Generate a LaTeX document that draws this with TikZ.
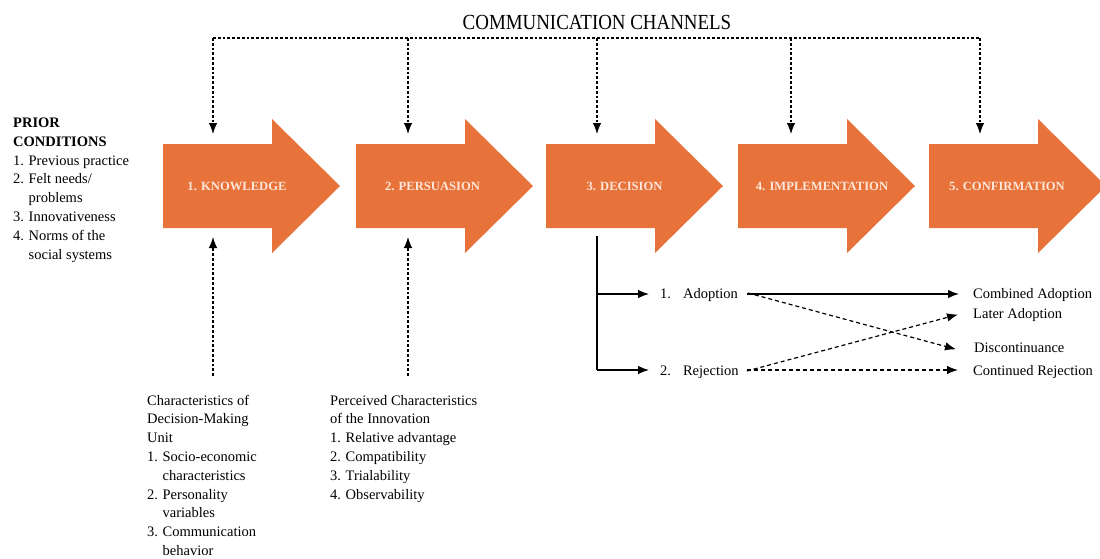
\documentclass[tikz,border=0pt]{standalone}
\usepackage{fontspec}
\setmainfont{Liberation Serif}
\usetikzlibrary{arrows.meta}
\definecolor{stagefill}{HTML}{E8733A}
\definecolor{stageink}{HTML}{FCE6DA}

% numbered list: number column, then the item text
\newenvironment{blocklist}{\renewcommand{\arraystretch}{1}\begin{tabular}[t]{@{}l@{\hspace{4.6pt}}l@{}}}{\end{tabular}}

\begin{document}
\begin{tikzpicture}[x=1pt,y=-1pt,
  body/.style={font=\fontsize{14.5}{18.8}\selectfont, inner sep=0pt, anchor=base west},
  stagelabel/.style={font=\fontsize{12.6}{15}\selectfont\bfseries, text=stageink, inner sep=0pt},
  tip/.style={-{Latex[length=11pt,width=8.5pt]}},
  chan/.style={line width=1.1pt, dash pattern=on 2.8pt off 2pt, tip},
  bus/.style={line width=1.1pt, dash pattern=on 2.8pt off 2pt},
  feed/.style={line width=1.1pt, dash pattern=on 2.8pt off 2pt, tip},
  solidarr/.style={line width=1.3pt, tip},
  dasharr/.style={line width=1.2pt, dash pattern=on 4pt off 3pt, tip},
]
\useasboundingbox (0,0) rectangle (1100,558);
\fill[white] (0,0) rectangle (1100,558);

% five stage arrows
\foreach \x in {163,356,546,738,929}{
  \fill[stagefill] (\x,144) -- ++(109,0) -- ++(0,-25) -- ++(68,67) -- ++(-68,67)
    -- ++(0,-25) -- ++(-109,0) -- cycle;
}
\node[stagelabel] (k1) at (237,186) {1. KNOWLEDGE};
\node[stagelabel] (k2) at (432.5,186) {2. PERSUASION};
\node[stagelabel] (k3) at (624.5,186) {3. DECISION};
\node[stagelabel] (k4) at (822,186) {4. IMPLEMENTATION};
\node[stagelabel] (k5) at (1007,186) {5. CONFIRMATION};

% communication channels
\node[font=\fontsize{21.5}{24}\selectfont, inner sep=0pt, anchor=base] (cc) at (597,29)
  {\scalebox{0.88}[1]{COMMUNICATION CHANNELS}};
\coordinate (b1) at (213,38);
\coordinate (b2) at (408,38);
\coordinate (b3) at (597,38);
\coordinate (b4) at (791,38);
\coordinate (b5) at (980,38);
\coordinate (t1) at (213,134);
\coordinate (t2) at (408,134);
\coordinate (t3) at (597,134);
\coordinate (t4) at (791,134);
\coordinate (t5) at (980,134);
\draw[bus] (b1) -- (b5);
\foreach \i in {1,...,5}{ \draw[chan] (b\i) -- (t\i); }

% prior conditions
\node[body] (prior) at (13,127.5) {\begin{blocklist}
  \multicolumn{2}{@{}l@{}}{\textbf{PRIOR}}\\
  \multicolumn{2}{@{}l@{}}{\textbf{CONDITIONS}}\\
  1. & Previous practice\\
  2. & Felt needs/\\
     & problems\\
  3. & Innovativeness\\
  4. & Norms of the\\
     & social systems
\end{blocklist}};

% characteristics of the decision-making unit
\node[body] (dmu) at (147,405) {\begin{blocklist}
  \multicolumn{2}{@{}l@{}}{Characteristics of}\\
  \multicolumn{2}{@{}l@{}}{Decision-Making}\\
  \multicolumn{2}{@{}l@{}}{Unit}\\
  1. & Socio-economic\\
     & characteristics\\
  2. & Personality\\
     & variables\\
  3. & Communication\\
     & behavior
\end{blocklist}};

% perceived characteristics of the innovation
\node[body] (pci) at (330,405) {\begin{blocklist}
  \multicolumn{2}{@{}l@{}}{Perceived Characteristics}\\
  \multicolumn{2}{@{}l@{}}{of the Innovation}\\
  1. & Relative advantage\\
  2. & Compatibility\\
  3. & Trialability\\
  4. & Observability
\end{blocklist}};

\coordinate (f1s) at (213,376);
\coordinate (f1e) at (213,237);
\coordinate (f2s) at (408,376);
\coordinate (f2e) at (408,237);
\draw[feed] (f1s) -- (f1e);
\draw[feed] (f2s) -- (f2e);

% decision outcomes
\node[body] (adopt) at (660,298) {1.\hspace{12pt}Adoption};
\node[body] (reject) at (660,375) {2.\hspace{12pt}Rejection};
\node[body] (comb) at (973,298) {Combined Adoption};
\node[body] (later) at (973,318) {Later Adoption};
\node[body] (disc) at (974,352) {Discontinuance};
\node[body] (cont) at (973,375) {Continued Rejection};

\coordinate (dtop) at (597,236);
\coordinate (dbot) at (597,370);
\coordinate (dmid) at (597,294);
\draw[line width=1.3pt] (dtop) -- (dbot);
\draw[solidarr] (dmid) -- ([xshift=-11pt]adopt.west |- dmid);
\draw[solidarr] (dbot) -- ([xshift=-11pt]reject.west |- dbot);

\draw[solidarr] ([xshift=9pt]adopt.east |- dmid) -- ([xshift=-14pt]comb.west |- dmid);
\draw[dasharr] ([xshift=10pt,yshift=1pt]adopt.east |- dmid) -- ([xshift=-18pt,yshift=-2pt]disc.west);
\draw[dasharr] ([xshift=8pt,yshift=-1pt]reject.east |- dbot) -- ([xshift=-15pt,yshift=0pt]later.west);
\draw[dasharr] ([xshift=8pt]reject.east |- dbot) -- ([xshift=-15pt]cont.west |- dbot);
\end{tikzpicture}
\end{document}
